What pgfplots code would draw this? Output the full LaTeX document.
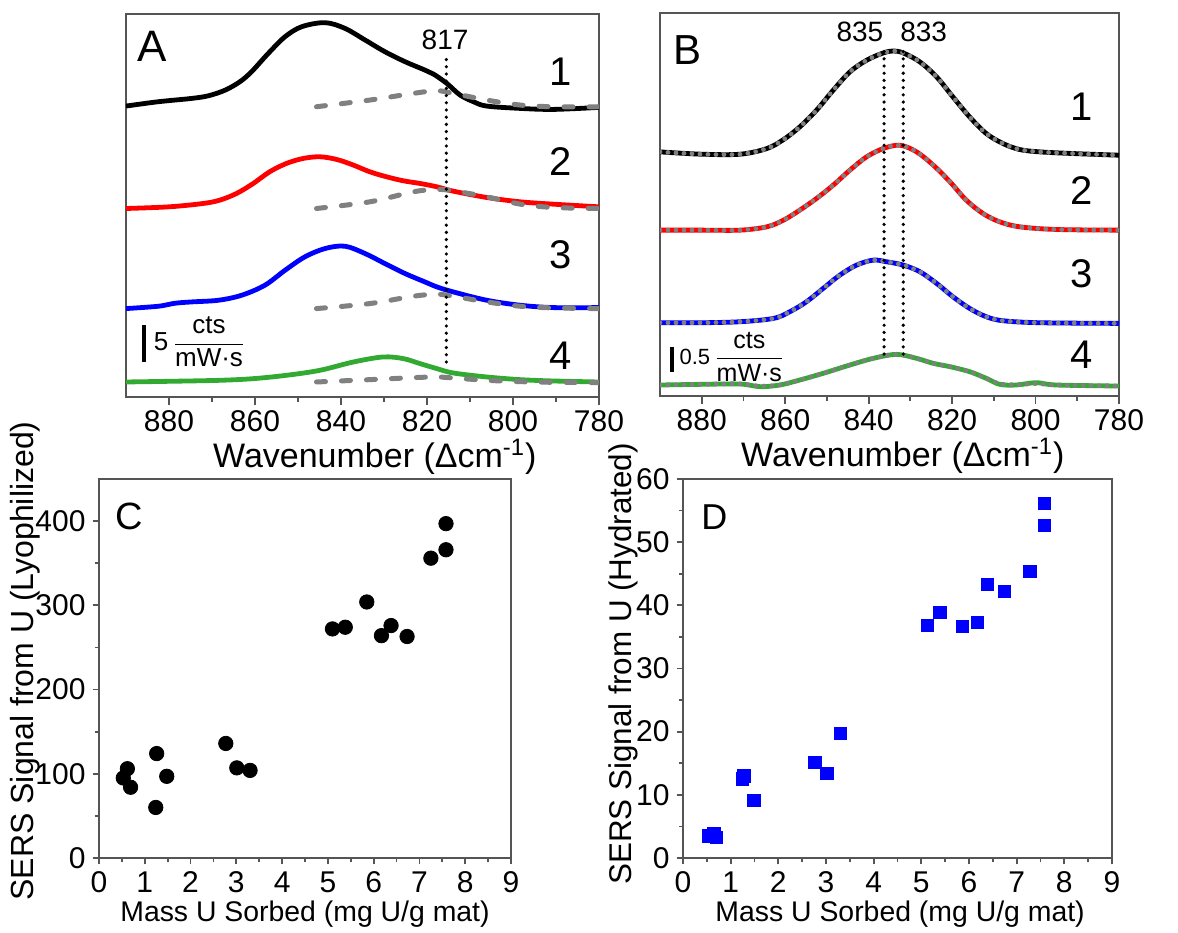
\documentclass[border=0pt]{standalone}
\usepackage{pgfplots}
\pgfplotsset{compat=1.18}
\usepackage{amsmath}
\usepackage{fontspec}
\setmainfont{Liberation Sans}
\definecolor{cgreen}{RGB}{50,170,50}
\definecolor{cgray}{RGB}{128,128,128}
\definecolor{cframe}{RGB}{85,85,85}
\tikzset{
  vdot/.style={black, line width=1.8pt, line cap=round, dash pattern=on 0pt off 3.6pt},
  num/.style={font=\fontsize{20}{24}\selectfont, inner sep=0pt},
}
\pgfplotsset{
  panel/.style={
    scale only axis,
    anchor=south west,
    clip mode=individual,
    axis line style={cframe, line width=0.9pt},
    tick style={cframe, line width=0.9pt},
    tick align=outside,
    tick pos=left,
    major tick length=4pt,
    minor tick length=2.5pt,
    tick label style={font=\fontsize{15}{18}\selectfont},
    /pgf/number format/assume math mode=true,
  },
  spec/.style={
    panel, x dir=reverse, xmin=780, xmax=890, ymin=0,
    xtick={780,800,...,880}, minor x tick num=1, ytick=\empty,
    xticklabel style={inner sep=2.5pt},
    xlabel={Wavenumber (Δcm\textsuperscript{-1})},
    xlabel style={font=\fontsize{17}{20}\selectfont, inner sep=0pt, anchor=north},
  },
  curve/.style={line width=2.4pt, smooth, tension=0.55},
  fitA/.style={cgray, line width=2.5pt, line cap=round, dash pattern=on 4.5pt off 8pt, smooth, tension=0.55},
  fitB/.style={cgray, line width=2.4pt, line cap=round, dash pattern=on 0pt off 4pt, smooth, tension=0.55},
}
\begin{document}
\begin{tikzpicture}
\path[use as bounding box] (0,0) rectangle (589pt,466pt);

% ---------------- Panel A ----------------
\begin{axis}[spec, at={(63pt,267.5pt)}, width=236.5pt, height=191.5pt, ymax=1148,
  xlabel style={at={(axis description cs:0.526,-0.108)}}]
\addplot[curve, black] coordinates {
(890,872) (882.5,885) (874.7,895) (870.8,903) (866.9,920) (863.5,945) (860.8,975)
(856.9,1030) (853,1080) (849.1,1110) (843.7,1122) (839.1,1105) (834.4,1070)
(829.8,1035) (825.1,1005) (820.5,980) (818.5,968)
(815.4,940) (812.3,905) (809.2,885) (806.1,872) (798.3,865) (790.6,862) (780,868)};
\addplot[curve, red] coordinates {
(890,565) (880,570) (872.1,580) (868.2,590) (864.3,610) (860.4,640) (856.6,675)
(852.7,700) (848.8,715) (844.9,720) (841,712) (837.1,695) (833.3,675) (829.4,660)
(825.5,648) (821.6,640) (817.7,630) (813.9,617) (806.1,598) (798.3,585) (790.6,578) (780,570)};
\addplot[curve, blue] coordinates {
(890,265) (882.5,272) (878.6,281) (874.7,285) (868.5,290) (863.1,305) (857.7,335)
(853,380) (848.4,420) (843.7,445) (839.1,452) (834.4,430) (829.8,400) (825.1,370)
(820.5,345) (817.7,330) (813.9,315) (806.1,290) (798.3,275) (790.6,268) (780,268)};
\addplot[curve, cgreen] coordinates {
(890,45) (880,47) (868.2,50) (860.4,55) (852.7,65) (844.9,80) (837.1,105) (830.2,120)
(825.5,115) (821.6,100) (817.7,85) (813.9,72) (806.1,60) (798.3,52) (790.6,48) (780,45)};
\addplot[fitA] coordinates {
(845.7,870) (833.3,890) (823.2,910) (817.7,918) (813.9,910) (806.1,890) (798.3,875) (790.6,870) (780,870)};
\addplot[fitA] coordinates {
(845.7,565) (833.3,585) (823.2,615) (817.7,622) (813.9,618) (806.1,600) (798.3,578) (790.6,568) (780,565)};
\addplot[fitA] coordinates {
(845.7,265) (833.3,280) (823.2,302) (817.7,308) (813.9,302) (806.1,285) (798.3,272) (790.6,267) (780,265)};
\addplot[fitA] coordinates {
(845.7,45) (833.3,52) (823.2,58) (817.7,60) (813.9,57) (806.1,50) (798.3,46) (790.6,44) (780,43)};
\draw[vdot] (axis cs:815.5,105) -- (axis cs:815.5,1030);
\node[font=\fontsize{14}{16}\selectfont, inner sep=0pt] at (axis cs:815.8,1070) {817};
\node[font=\fontsize{22}{26}\selectfont, inner sep=0pt] at (axis cs:884,1050) {A};
\node[num] at (axis cs:789,975) {1};
\node[num] at (axis cs:789,705) {2};
\node[num] at (axis cs:789,425) {3};
\node[num] at (axis cs:789,125) {4};
\draw[black, line width=2pt] (axis cs:885.7,105) -- (axis cs:885.7,215);
\node[anchor=west, inner sep=0pt, font=\fontsize{13}{15}\selectfont] at (axis cs:883.6,165)
  {5\,$\dfrac{\text{cts}}{\text{mW·s}}$};
\end{axis}

% ---------------- Panel B ----------------
\begin{axis}[spec, at={(330pt,268pt)}, width=229.5pt, height=191.5pt, ymax=1150,
  xlabel style={at={(axis description cs:0.529,-0.108)}}]
\addplot[curve, black] coordinates {
(890,733) (880,726) (870.8,726) (864.4,743) (860.4,770) (856.5,808) (852.5,858)
(848.5,918) (844.5,973) (840.5,1008) (836.5,1030) (834.1,1036) (831.7,1030)
(827.7,1003) (823.7,958) (819.8,898) (815.8,838) (811.8,788) (807.8,758) (803.8,740)
(799,733) (791,728) (780,723)};
\addplot[fitB] coordinates {
(890,733) (880,726) (870.8,726) (864.4,743) (860.4,770) (856.5,808) (852.5,858)
(848.5,918) (844.5,973) (840.5,1008) (836.5,1030) (834.1,1036) (831.7,1030)
(827.7,1003) (823.7,958) (819.8,898) (815.8,838) (811.8,788) (807.8,758) (803.8,740)
(799,733) (791,728) (780,723)};
\addplot[curve, red] coordinates {
(890,498) (880,498) (870.8,498) (864.4,508) (860.4,528) (856.5,558) (852.5,593)
(848.5,633) (844.5,678) (840.5,718) (836.5,743) (832.5,753) (828.5,733) (824.5,693)
(820.5,643) (816.6,588) (812.6,548) (808.6,523) (803.8,508) (795,500) (780,498)};
\addplot[fitB] coordinates {
(890,498) (880,498) (870.8,498) (864.4,508) (860.4,528) (856.5,558) (852.5,593)
(848.5,633) (844.5,678) (840.5,718) (836.5,743) (832.5,753) (828.5,733) (824.5,693)
(820.5,643) (816.6,588) (812.6,548) (808.6,523) (803.8,508) (795,500) (780,498)};
\addplot[curve, blue] coordinates {
(890,220) (880,220) (870.8,223) (862.8,233) (858.9,253) (854.9,283) (850.9,323)
(846.9,363) (842.9,393) (838.9,408) (835.7,403) (831.7,393) (827.7,373) (823.7,338)
(819.8,298) (815.8,263) (811.8,238) (807.8,226) (799,220) (780,218)};
\addplot[fitB] coordinates {
(890,220) (880,220) (870.8,223) (862.8,233) (858.9,253) (854.9,283) (850.9,323)
(846.9,363) (842.9,393) (838.9,408) (835.7,403) (831.7,393) (827.7,373) (823.7,338)
(819.8,298) (815.8,263) (811.8,238) (807.8,226) (799,220) (780,218)};
\addplot[curve, cgreen] coordinates {
(890,33) (880,35) (870.8,36) (866,28) (861.3,33) (856.5,48) (850.9,68) (844.5,93)
(838.9,113) (833.3,125) (828.5,113) (824.5,98) (820.5,88) (815.8,73) (811.8,53)
(808.6,35) (804.6,33) (799.8,40) (795,33) (780,30)};
\addplot[fitB] coordinates {
(890,33) (880,35) (870.8,36) (866,30) (861.3,33) (856.5,48) (850.9,68) (844.5,93)
(838.9,113) (833.3,125) (828.5,113) (824.5,98) (820.5,88) (815.8,73) (811.8,53)
(808.6,37) (804.6,34) (799.8,37) (795,33) (780,30)};
\draw[vdot] (axis cs:836.3,126) -- (axis cs:836.3,1040);
\draw[vdot] (axis cs:831.7,126) -- (axis cs:831.7,1040);
\node[font=\fontsize{14}{16}\selectfont, inner sep=0pt] at (axis cs:842.1,1093) {835};
\node[font=\fontsize{14}{16}\selectfont, inner sep=0pt] at (axis cs:826.8,1093) {833};
\node[font=\fontsize{21}{25}\selectfont, inner sep=0pt] at (axis cs:883.4,1038) {B};
\node[num] at (axis cs:789,868) {1};
\node[num] at (axis cs:789,618) {2};
\node[num] at (axis cs:789,368) {3};
\node[num] at (axis cs:789,123) {4};
\draw[black, line width=2pt] (axis cs:887.2,73) -- (axis cs:887.2,148);
\node[anchor=west, inner sep=0pt, font=\fontsize{12.5}{14}\selectfont] at (axis cs:885.4,118)
  {{\fontsize{11}{13}\selectfont 0.5}\,$\dfrac{\text{cts}}{\text{mW·s}}$};
\end{axis}

% ---------------- Panel C ----------------
\begin{axis}[panel, at={(49.5pt,37pt)}, width=206pt, height=189.5pt,
  xmin=0, xmax=9, ymin=0, ymax=450,
  xtick={0,1,...,9}, minor x tick num=1,
  ytick={0,100,...,400}, minor y tick num=1,
  major tick length=3.2pt, minor tick length=2pt,
  xlabel={Mass U Sorbed (mg U/g mat)},
  xlabel style={font=\fontsize{14.2}{17}\selectfont, inner sep=0pt, anchor=north,
    at={(axis description cs:0.5,-0.113)}},
  ylabel={SERS Signal from U (Lyophilized)},
  ylabel style={font=\fontsize{16}{19}\selectfont, inner sep=0pt, anchor=center,
    at={(axis description cs:-0.180,0.52)}},
]
\addplot[only marks, mark=*, mark size=3.6pt, black] coordinates {
(0.53,95) (0.62,106) (0.69,84) (1.26,124) (1.24,60) (1.48,97)
(2.77,136) (3.01,107) (3.30,104)
(5.10,272) (5.38,274) (5.85,304) (6.17,264) (6.38,276) (6.73,263)
(7.25,356) (7.58,397) (7.58,366)};
\node[font=\fontsize{19}{23}\selectfont, inner sep=0pt] at (axis cs:0.66,406) {C};
\end{axis}

% ---------------- Panel D ----------------
\begin{axis}[panel, at={(341.5pt,37pt)}, width=214.5pt, height=189.5pt,
  xmin=0, xmax=9, ymin=0, ymax=60,
  xtick={0,1,...,9}, minor x tick num=1,
  ytick={0,10,...,60}, minor y tick num=1,
  major tick length=3.2pt, minor tick length=2pt,
  xlabel={Mass U Sorbed (mg U/g mat)},
  xlabel style={font=\fontsize{14.2}{17}\selectfont, inner sep=0pt, anchor=north,
    at={(axis description cs:0.506,-0.113)}},
  ylabel={SERS Signal from U (Hydrated)},
  ylabel style={font=\fontsize{15.7}{19}\selectfont, inner sep=0pt, anchor=center,
    at={(axis description cs:-0.140,0.512)}},
]
\addplot[only marks, mark=square*, mark size=3.1pt, blue] coordinates {
(0.54,3.5) (0.65,3.9) (0.70,3.3) (1.24,12.5) (1.28,13.0) (1.49,9.1)
(2.77,15.1) (3.02,13.4) (3.30,19.7)
(5.13,36.8) (5.39,38.9) (5.86,36.7) (6.18,37.3) (6.39,43.3) (6.74,42.2)
(7.28,45.4) (7.58,56.1) (7.58,52.7)};
\node[font=\fontsize{18}{22}\selectfont, inner sep=0pt] at (axis cs:0.66,54) {D};
\end{axis}
\end{tikzpicture}
\end{document}
